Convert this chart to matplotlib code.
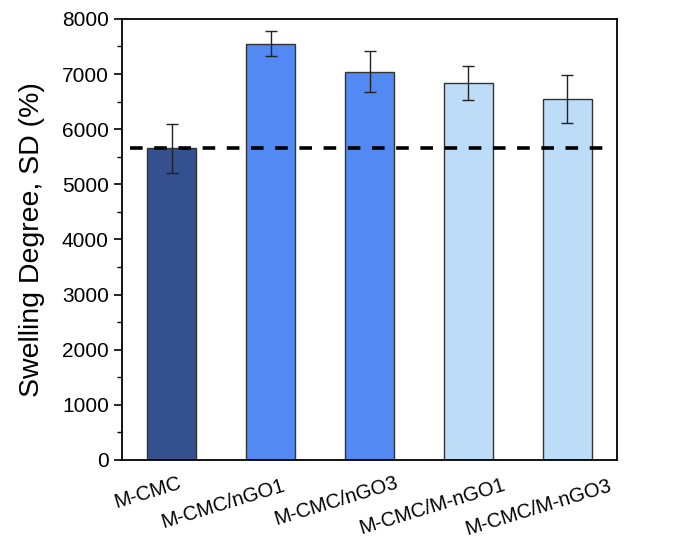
import matplotlib
matplotlib.use("Agg")
import matplotlib.pyplot as plt
import matplotlib.transforms as mtransforms
from matplotlib.ticker import MultipleLocator

muestras = ["M-CMC", "M-CMC/nGO1", "M-CMC/nGO3", "M-CMC/M-nGO1", "M-CMC/M-nGO3"]
swelling = [5650, 7550, 7040, 6830, 6550]
errores = [440, 225, 375, 310, 435]
colores = ["#34508f", "#5289f2", "#5289f2", "#bddcf8", "#bddcf8"]
referencia = 5650

plt.rcParams['font.family'] = ['Liberation Sans', 'DejaVu Sans']

fig = plt.figure(figsize=(6.78, 5.39), dpi=100)
ax = fig.add_axes([0.180, 0.1466, 0.730, 0.8184])

x = list(range(len(muestras)))
ax.bar(x, swelling, width=0.5, color=colores, edgecolor="#333333", linewidth=1.0,
       yerr=errores, capsize=4, error_kw={'elinewidth': 1.0, 'capthick': 1.0, 'ecolor': '#222222'},
       zorder=2)
ax.axhline(referencia, xmin=0.016, xmax=0.976, color="black", linestyle=(0, (3.5, 3.2)),
           linewidth=2.6, zorder=3)

ax.set_xlim(-0.5, 4.5)
ax.set_ylim(0, 8000)
ax.yaxis.set_major_locator(MultipleLocator(1000))
ax.yaxis.set_minor_locator(MultipleLocator(500))
ax.tick_params(axis='y', which='major', direction='out', length=6, width=1.2, labelsize=15)
ax.tick_params(axis='y', which='minor', direction='out', length=3.5, width=1.0)
ax.set_xticks(x)
ax.tick_params(axis='x', length=0, labelbottom=False)
for s in ax.spines.values():
    s.set_linewidth(1.3)

# etiquetas del eje x colocadas a mano (desplazamiento en pixeles)
dx = [11, 16, 30, 38, 45]
dy = [-28, -30, -27, -30, -31]
for i, nombre in enumerate(muestras):
    tr = ax.get_xaxis_transform() + mtransforms.ScaledTranslation(dx[i] / 100, dy[i] / 100, fig.dpi_scale_trans)
    ax.text(i, 0, nombre, transform=tr, rotation=17, ha='right', va='baseline',
            rotation_mode='anchor', fontsize=14.5, clip_on=False)

ax.set_ylabel("Swelling Degree, SD (%)", fontsize=20.5, labelpad=12)

plt.savefig("out.png", dpi=100)
